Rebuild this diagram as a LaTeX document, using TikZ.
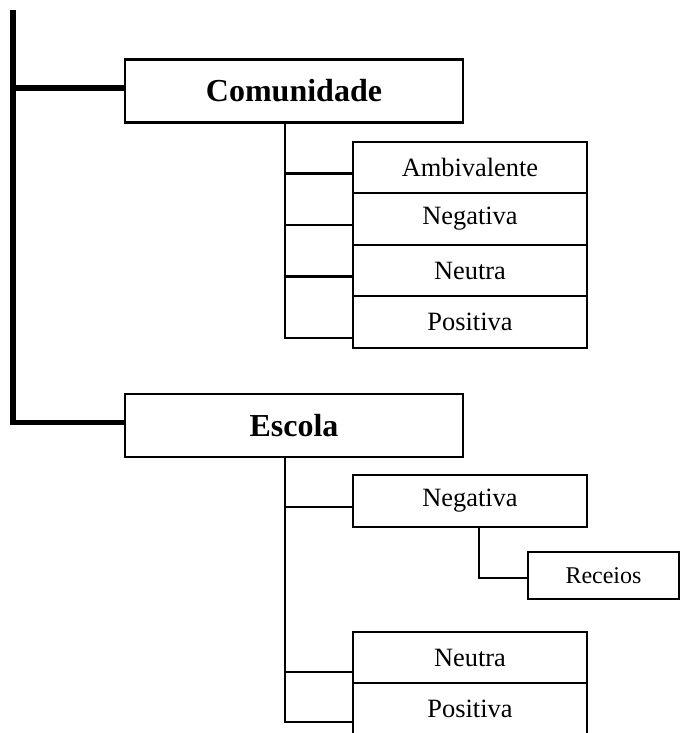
\documentclass[tikz,border=0pt]{standalone}
\usepackage{fontspec}
\setmainfont{Liberation Serif}
\usetikzlibrary{calc}
\begin{document}
\begin{tikzpicture}[x=0.5pt,y=-0.5pt,
  thin line/.style={line width=1.1pt},
  thick line/.style={line width=2.7pt, line join=miter},
  box/.style={draw, thin line, inner sep=0pt, minimum width=117pt, font=\fontsize{13.2}{15}\selectfont},
  topbox/.style={draw, thin line, inner sep=0pt, minimum width=169pt, minimum height=31.5pt, font=\fontsize{16}{18}\bfseries\selectfont},
]
\useasboundingbox (0,0) rectangle (680,733);
\clip (0,0) rectangle (680,733);

% top-level categories
\node[topbox] (com) at (294,91) {Comunidade};
\node[topbox] (esc) at (294,425.5) {Escola};

% spine joining the two categories
\coordinate (top) at (13,10);
\coordinate (tc) at ($(com.west)+(0,-3)$);
\coordinate (te) at ($(esc.west)+(0,-3)$);
\draw[thick line] (top) |- (tc);
\draw[thick line] (top) |- (te);

% Comunidade sub-categories
\node[box, minimum height=25.75pt] (camb) at (470,167.5) {Ambivalente};
\node[box, minimum height=25.75pt] (cneg) at (470,219)   {Negativa};
\node[box, minimum height=25.75pt] (cneu) at (470,270.5) {Neutra};
\node[box, minimum height=25.75pt] (cpos) at (470,322)   {Positiva};

\coordinate (cx) at (285,0);
\coordinate (ca) at ($(camb.west)+(0,6)$);
\coordinate (cb) at ($(cneg.west)+(0,6)$);
\coordinate (cc) at ($(cneu.west)+(0,6)$);
\coordinate (cd) at ($(cpos.west)+(0,16)$);
\draw[thin line] (com.south -| cx) -- (cx |- cd) -- (cd);
\draw[thin line] (cx |- ca) -- (ca);
\draw[thin line] (cx |- cb) -- (cb);
\draw[thin line] (cx |- cc) -- (cc);

% Escola sub-categories
\node[box, minimum height=26pt] (eneg) at (470,501)   {Negativa};
\node[box, minimum height=25.5pt] (eneu) at (470,657.5) {Neutra};
\node[box, minimum height=26pt] (epos) at (470,709)   {Positiva};
\node[draw, thin line, inner sep=0pt, minimum width=75.5pt, minimum height=23.5pt,
      font=\fontsize{12}{14}\selectfont] (rec) at (603.5,575.5) {Receios};

\coordinate (ex) at (285,0);
\coordinate (ea) at ($(eneg.west)+(0,6)$);
\coordinate (eb) at ($(eneu.west)+(0,14.5)$);
\coordinate (ec) at ($(epos.west)+(0,13)$);
\draw[thin line] (esc.south -| ex) -- (ex |- ec) -- (ec);
\draw[thin line] (ex |- ea) -- (ea);
\draw[thin line] (ex |- eb) -- (eb);

% Negativa -> Receios
\coordinate (rx) at (479,0);
\coordinate (ra) at ($(rec.west)+(0,2.5)$);
\draw[thin line] (eneg.south -| rx) |- (ra);
\end{tikzpicture}
\end{document}
